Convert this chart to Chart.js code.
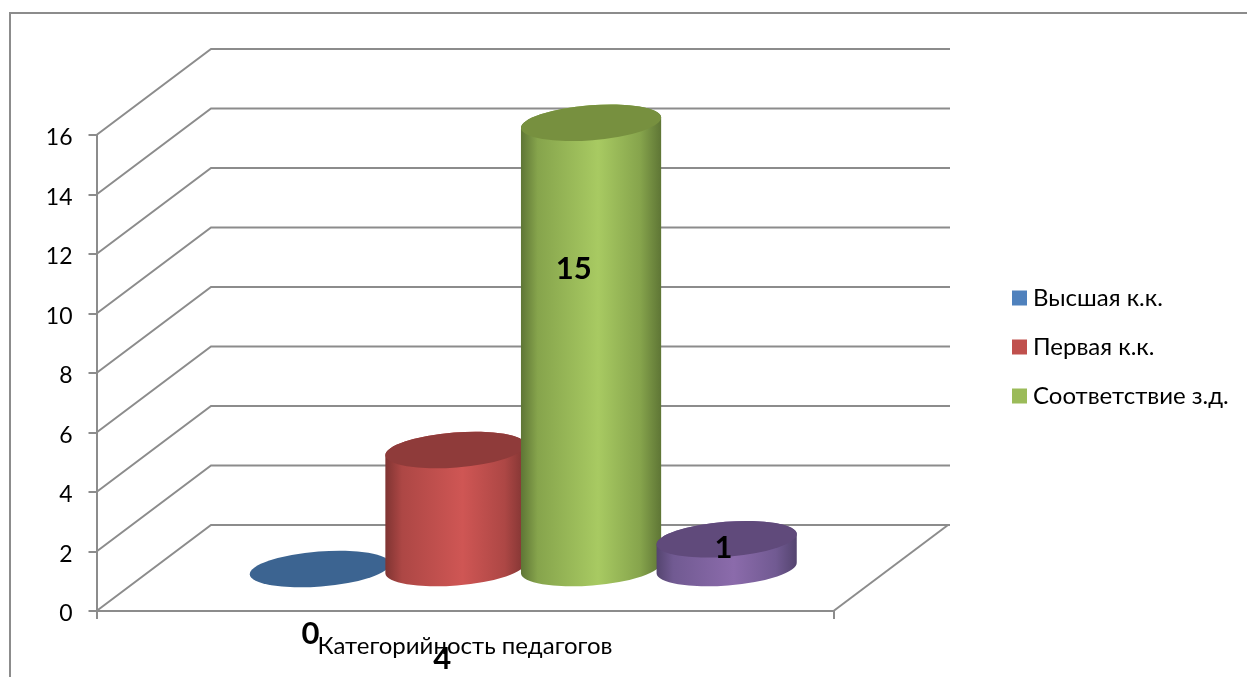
<!DOCTYPE html>
<html>
<head>
<meta charset="utf-8">
<script src="https://cdn.jsdelivr.net/npm/chart.js@4"></script>
<style>
  html, body { margin: 0; padding: 0; background: #fff; overflow: hidden; }
  canvas { display: block; }
</style>
</head>
<body>
<canvas id="chart1" width="1247" height="677"></canvas>
<script>
const categories = [''];
const seriesNames = ['Высшая к.к.', 'Первая к.к.', 'Соответствие з.д.', ''];
const seriesValues = [0, 4, 15, 1];
const axisTitle = 'Категорийность педагогов';
const yMax = 16;
const yStep = 2;

const legendColors = ['#4f81bd', '#c0504d', '#9bbb59', '#8064a2'];
// top of the cylinder, then side gradient: edge, shoulder, middle
const cylinderColors = [
  ['#3c6491', '#36597f', '#47709f', '#4f7eb5'],
  ['#8f3b3a', '#7f3432', '#ad4745', '#cf5654'],
  ['#77903f', '#5e7535', '#86a44c', '#a8ca62'],
  ['#604a7b', '#54446f', '#715a92', '#8b6bab']
];
const lineColor = '#8c8c8c';
const fontName = 'Lato, "Open Sans", sans-serif';

// where the depth of the floor goes, in pixels
const depthX = 114.5;
const depthY = 86;
const wallRight = 950;
const tilt = -4.5 * Math.PI / 180;
const ellipseRy = 17.5;
// the value labels sit away from the bars in the original
const labelShift = [[49, 23], [45, 167], [41, 104], [55, -33]];

function line(ctx, points){
  ctx.beginPath();
  points.forEach((p, i) => i ? ctx.lineTo(p[0], p[1]) : ctx.moveTo(p[0], p[1]));
  ctx.stroke();
}

function drawCylinder(ctx, bar, colors){
  const cx = bar.x + depthX / 2 + 1;
  const rx = bar.width / 2 + 2.5;
  const baseY = bar.base - depthY / 2 + 1;
  const topY = bar.y - depthY / 2 + 1;

  if(baseY - topY > 0.5){
    const grad = ctx.createLinearGradient(cx - rx, 0, cx + rx, 0);
    grad.addColorStop(0, colors[1]);
    grad.addColorStop(0.12, colors[2]);
    grad.addColorStop(0.55, colors[3]);
    grad.addColorStop(0.85, colors[2]);
    grad.addColorStop(1, colors[1]);
    ctx.fillStyle = grad;
    ctx.beginPath();
    ctx.ellipse(cx, baseY, rx, ellipseRy, tilt, 0, Math.PI);
    ctx.ellipse(cx, topY, rx, ellipseRy, tilt, Math.PI, 0);
    ctx.closePath();
    ctx.fill();
  }
  ctx.fillStyle = colors[0];
  ctx.beginPath();
  ctx.ellipse(cx, topY, rx, ellipseRy, tilt, 0, Math.PI * 2);
  ctx.fill();
}

const box3d = {
  id: 'box3d',
  beforeDatasetsDraw(chart){
    const ctx = chart.ctx;
    const yScale = chart.scales.y;
    const area = chart.chartArea;
    ctx.save();

    // page frame
    ctx.strokeStyle = lineColor;
    ctx.lineWidth = 2;
    line(ctx, [[10, 677], [10, 13], [1247, 13]]);

    // side wall and back wall, one line for each tick
    yScale.ticks.forEach(t => {
      const y = yScale.getPixelForValue(t.value);
      line(ctx, [[area.left, y], [area.left + depthX, y - depthY], [wallRight, y - depthY]]);
    });
    // right edge of the floor
    line(ctx, [[area.right, area.bottom], [area.right + depthX, area.bottom - depthY]]);

    seriesValues.forEach((v, i) => {
      drawCylinder(ctx, chart.getDatasetMeta(i).data[0], cylinderColors[i]);
    });

    ctx.fillStyle = '#000';
    ctx.font = 'bold 31px ' + fontName;
    ctx.textAlign = 'center';
    ctx.textBaseline = 'middle';
    seriesValues.forEach((v, i) => {
      const bar = chart.getDatasetMeta(i).data[0];
      ctx.fillText(String(v), bar.x + labelShift[i][0], bar.y + labelShift[i][1]);
    });

    ctx.restore();
    return false; // the flat bars are not wanted
  },
  afterLayout(chart){
    // legend stays outside the plot, right of the back wall
    const legend = chart.legend;
    legend.left = 993;
    legend.right = 1247;
    legend.top = 261;
    legend.bottom = 440;
  }
};

new Chart(document.getElementById('chart1').getContext('2d'), {
  type: 'bar',
  data: {
    labels: categories,
    datasets: seriesValues.map((v, i) => ({
      label: seriesNames[i],
      data: [v],
      backgroundColor: legendColors[i]
    }))
  },
  options: {
    responsive: false,
    animation: false,
    devicePixelRatio: 1,
    categoryPercentage: 0.736,
    barPercentage: 1,
    layout: { padding: { top: 135, right: 413.5, left: 0, bottom: 0 } },
    plugins: {
      tooltip: { enabled: false },
      legend: {
        position: 'chartArea',
        align: 'start',
        labels: {
          usePointStyle: true,
          pointStyle: 'rect',
          boxWidth: 3,
          boxHeight: 15,
          padding: 25,
          color: '#000',
          font: { family: fontName, size: 24 },
          filter: item => item.text !== ''
        }
      }
    },
    scales: {
      x: {
        afterFit: s => { s.height = 66; },
        grid: { drawOnChartArea: false, tickLength: 8, color: lineColor, lineWidth: 2 },
        border: { color: lineColor, width: 2 },
        ticks: { display: false },
        title: {
          display: true,
          text: axisTitle,
          color: '#000',
          font: { family: fontName, size: 24 },
          padding: { top: 0, bottom: 16 }
        }
      },
      y: {
        min: 0,
        max: yMax,
        afterFit: s => { s.width = 96.5; },
        grid: { drawOnChartArea: false, tickLength: 8, color: lineColor, lineWidth: 2 },
        border: { color: lineColor, width: 2 },
        ticks: {
          stepSize: yStep,
          padding: 16,
          labelOffset: 3,
          color: '#000',
          font: { family: fontName, size: 23 }
        }
      }
    }
  },
  plugins: [box3d]
});
</script>
</body>
</html>
